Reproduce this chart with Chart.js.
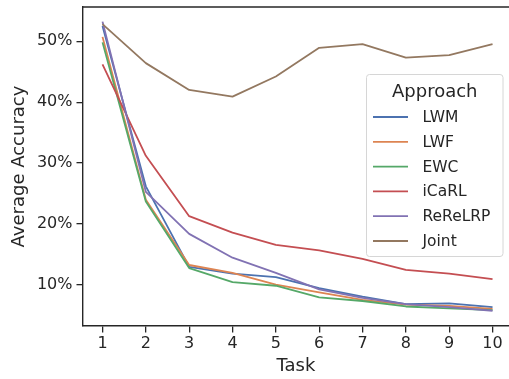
<!DOCTYPE html>
<html>
<head>
<meta charset="utf-8">
<script src="https://cdn.jsdelivr.net/npm/chart.js@4.4.1/dist/chart.umd.min.js"></script>
<style>
  html, body { margin: 0; padding: 0; background: #fff; overflow: hidden; }
</style>
</head>
<body>
<canvas id="c" width="509" height="379"></canvas>
<script>
const tasks = [1, 2, 3, 4, 5, 6, 7, 8, 9, 10];
const yTicks = [10, 20, 30, 40, 50];
const approaches = ["LWM", "LWF", "EWC", "iCaRL", "ReReLRP", "Joint"];
const lwm     = [52.5, 26.2, 13.0, 11.9, 11.3, 9.5, 8.1, 6.9, 7.0, 6.4];
const lwf     = [50.7, 24.0, 13.3, 12.0, 10.1, 8.8, 7.6, 6.8, 6.6, 6.1];
const ewc     = [49.8, 23.7, 12.8, 10.5, 9.9, 8.0, 7.4, 6.5, 6.2, 5.9];
const icarl   = [46.2, 31.2, 21.3, 18.6, 16.6, 15.7, 14.3, 12.5, 11.9, 11.0];
const rerelrp = [53.2, 25.3, 18.4, 14.5, 12.0, 9.3, 7.9, 6.9, 6.4, 5.8];
const joint   = [52.8, 46.4, 42.0, 40.9, 44.2, 48.9, 49.5, 47.3, 47.7, 49.5];
const seriesValues = [lwm, lwf, ewc, icarl, rerelrp, joint];
const colors = ["#4C72B0", "#DD8452", "#55A868", "#C44E52", "#8172B3", "#937860"];

const TXT = "#262626";
const FONT = "'DejaVu Sans', sans-serif";

const frame = {
  id: 'frame',
  afterDraw(chart) {
    const {ctx, chartArea: a} = chart;
    ctx.save();
    ctx.strokeStyle = TXT;
    ctx.lineWidth = 1.4;
    ctx.beginPath();
    ctx.moveTo(a.left, a.top);
    ctx.lineTo(a.right + 2, a.top);
    ctx.stroke();
    ctx.restore();
  }
};

const legendBox = {
  id: 'legendBox',
  afterDraw(chart) {
    const ctx = chart.ctx;
    const x0 = 366.5, y0 = 74.5, w = 136.5, h = 182;
    ctx.save();
    ctx.beginPath();
    if (ctx.roundRect) ctx.roundRect(x0, y0, w, h, 3); else ctx.rect(x0, y0, w, h);
    ctx.fillStyle = "rgba(255,255,255,0.85)";
    ctx.fill();
    ctx.strokeStyle = "#d6d6d6";
    ctx.lineWidth = 1;
    ctx.stroke();
    ctx.fillStyle = TXT;
    ctx.textBaseline = "middle";
    ctx.textAlign = "center";
    ctx.font = "18px " + FONT;
    ctx.fillText("Approach", x0 + w / 2, 92);
    ctx.textAlign = "left";
    ctx.font = "15.5px " + FONT;
    chart.data.datasets.forEach((ds, i) => {
      const y = 117 + i * 24.8;
      ctx.strokeStyle = ds.borderColor;
      ctx.lineWidth = 1.8;
      ctx.beginPath();
      ctx.moveTo(373, y);
      ctx.lineTo(408, y);
      ctx.stroke();
      ctx.fillStyle = TXT;
      ctx.fillText(ds.label, 422.5, y + 1);
    });
    ctx.restore();
  }
};

new Chart(document.getElementById('c'), {
  type: 'line',
  data: {
    datasets: approaches.map((name, i) => ({
      label: name,
      data: tasks.map((t, j) => ({x: t, y: seriesValues[i][j]})),
      borderColor: colors[i],
      backgroundColor: colors[i],
      borderWidth: 1.8,
      pointRadius: 0,
      tension: 0,
      borderJoinStyle: 'round',
      order: approaches.length - i
    }))
  },
  options: {
    responsive: false,
    animation: false,
    events: [],
    layout: { padding: { top: 7, right: 0, left: 0, bottom: 0 } },
    plugins: { legend: { display: false }, tooltip: { enabled: false } },
    scales: {
      x: {
        type: 'linear',
        min: 0.55, max: 10.38,
        afterBuildTicks(s) { s.ticks = tasks.map(v => ({value: v})); },
        afterFit(s) { s.height = 53; s.paddingLeft = 0; s.paddingRight = 0; },
        grid: { drawOnChartArea: false, drawTicks: true, tickLength: 6.5, color: TXT, lineWidth: 1.3 },
        border: { display: true, color: TXT, width: 1.4 },
        ticks: { color: TXT, font: { family: FONT, size: 16 }, padding: 2, maxRotation: 0, autoSkip: false },
        title: { display: true, text: 'Task', color: TXT, font: { family: FONT, size: 18 }, padding: { top: 0, bottom: 1.5 } }
      },
      y: {
        type: 'linear',
        min: 3.3, max: 55.6,
        afterBuildTicks(s) { s.ticks = yTicks.map(v => ({value: v})); },
        afterFit(s) { s.width = 83; s.paddingTop = 0; s.paddingBottom = 0; },
        grid: { drawOnChartArea: false, drawTicks: true, tickLength: 6.5, color: TXT, lineWidth: 1.3 },
        border: { display: true, color: TXT, width: 1.4 },
        ticks: { color: TXT, font: { family: FONT, size: 16 }, padding: 4, callback: v => v + '%', autoSkip: false },
        title: { display: true, text: 'Average Accuracy', color: TXT, font: { family: FONT, size: 18 }, padding: { top: 9, bottom: 0 } }
      }
    }
  },
  plugins: [frame, legendBox]
});
</script>
</body>
</html>
